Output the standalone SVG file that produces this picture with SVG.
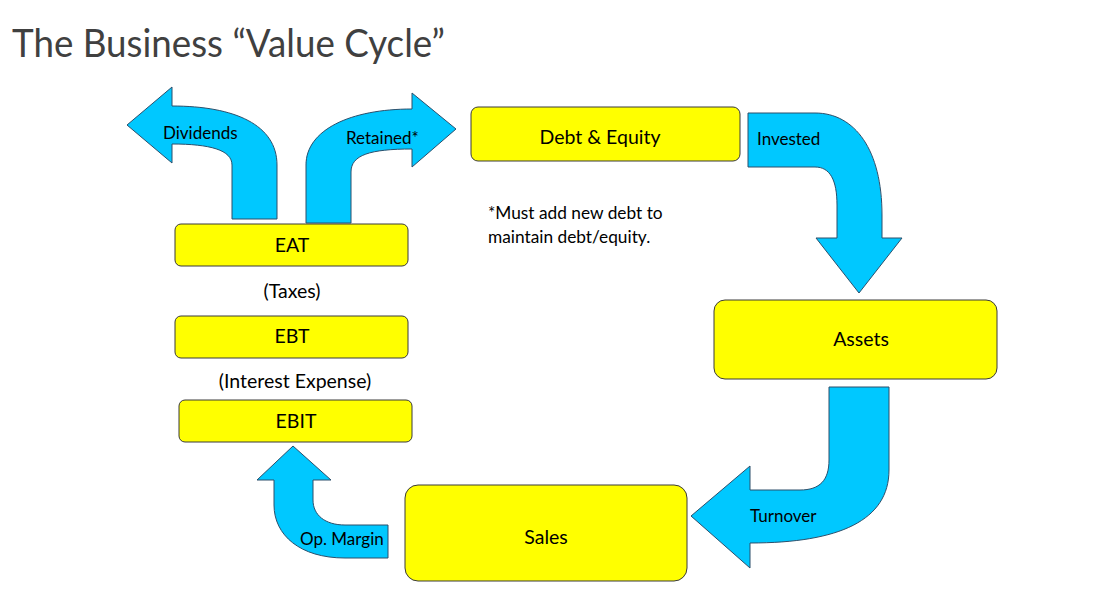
<svg xmlns="http://www.w3.org/2000/svg" width="1114" height="590" viewBox="0 0 1114 590">
<style>
.box{fill:#FFFF00;stroke:#3a3a3a;stroke-width:1}
.arr{fill:#00C8FF;stroke:#2c4f6b;stroke-width:1}
.t{font-family:Lato,"Liberation Sans",sans-serif;fill:#000}
.bt{font-size:19.5px;text-anchor:middle}
.lt{font-size:17px}
.nt{font-size:17.3px}
.title{font-family:Lato,"Liberation Sans",sans-serif;font-size:38px;fill:#404040}
</style>
<rect width="1114" height="590" fill="#ffffff"/>
<text class="title" x="12" y="57" textLength="433" lengthAdjust="spacingAndGlyphs">The Business “Value Cycle”</text>

<g id="connectors">
  <path class="arr" d="M232,219 L232,165 C232,150 210,144 172,144 L172,163 L127,125 L172,87 L172,106 C235,106 277,125 277,165 L277,219 Z"/>
  <path class="arr" d="M306,223 L306,165 C306,130 350,109 412,109 L412,93 L456,129 L412,167 L412,149 C370,149 351,155 351,172 L351,223 Z"/>
  <path class="arr" d="M748,113 L815,113 C855,113 882,150 882,215 L882,238 L902,238 L859,293 L816,238 L837,238 L837,205 C837,180 830,167 815,167 L748,167 Z"/>
  <path class="arr" d="M829,387 L889,387 L889,470 C889,520 840,543 750,543 L750,568 L691,516 L750,466 L750,490 L800,490 C820,490 829,480 829,460 Z"/>
  <path class="arr" d="M388,525 L388,558 L345,558 C300,558 274,535 274,505 L274,480 L257,480 L293,446 L331,480 L313,480 L313,500 C313,515 325,525 345,525 Z"/>
  <text class="t lt" x="163" y="139">Dividends</text>
  <text class="t lt" x="346" y="144">Retained*</text>
  <text class="t lt" x="757" y="145">Invested</text>
  <text class="t lt" x="750" y="522">Turnover</text>
  <text class="t lt" x="300" y="545">Op. Margin</text>
</g>

<g id="debt-equity">
  <rect class="box" x="471" y="107" width="269" height="54" rx="7"/>
  <text class="t bt" x="600" y="144">Debt &amp; Equity</text>
</g>
<g id="assets">
  <rect class="box" x="714" y="300" width="283" height="79" rx="11"/>
  <text class="t bt" x="861" y="346">Assets</text>
</g>
<g id="sales">
  <rect class="box" x="405" y="485" width="282" height="96" rx="13"/>
  <text class="t bt" x="546" y="544">Sales</text>
</g>
<g id="eat">
  <rect class="box" x="175" y="224" width="233" height="42" rx="6"/>
  <text class="t bt" x="292" y="252">EAT</text>
</g>
<g id="taxes">
  <text class="t bt" x="292" y="298">(Taxes)</text>
</g>
<g id="ebt">
  <rect class="box" x="175" y="316" width="233" height="42" rx="6"/>
  <text class="t bt" x="292" y="343">EBT</text>
</g>
<g id="interest">
  <text class="t bt" x="295" y="388">(Interest Expense)</text>
</g>
<g id="ebit">
  <rect class="box" x="179" y="400" width="233" height="42" rx="6"/>
  <text class="t bt" x="296" y="428">EBIT</text>
</g>
<g id="note">
  <text class="t nt" x="488" y="219">*Must add new debt to</text>
  <text class="t nt" x="488" y="243">maintain debt/equity.</text>
</g>
</svg>
